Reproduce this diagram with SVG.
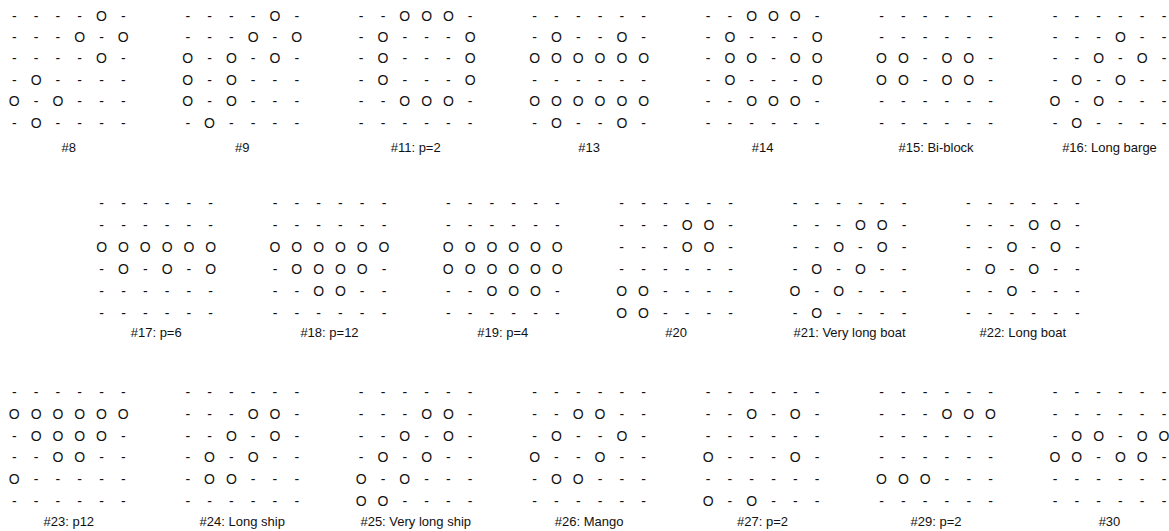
<svg xmlns="http://www.w3.org/2000/svg" width="1169" height="531" viewBox="0 0 1169 531">
<style>
.c{font-family:"Liberation Sans",Arial,Helvetica,sans-serif;font-size:14px;fill:#111;text-anchor:middle}
.l{font-family:"Liberation Sans",Arial,Helvetica,sans-serif;font-size:13px;fill:#111;text-anchor:middle}
</style>
<rect width="1169" height="531" fill="#fff"/>
<g id="connectors"/>
<!-- Row 1 -->
<g id="p8" transform="translate(14.3,20.7)">
<text class="c" x="0 21.8 43.6 65.4 87.2 109" y="0">----O-</text>
<text class="c" x="0 21.8 43.6 65.4 87.2 109" y="21.4">---O-O</text>
<text class="c" x="0 21.8 43.6 65.4 87.2 109" y="42.8">----O-</text>
<text class="c" x="0 21.8 43.6 65.4 87.2 109" y="64.2">-O----</text>
<text class="c" x="0 21.8 43.6 65.4 87.2 109" y="85.6">O-O---</text>
<text class="c" x="0 21.8 43.6 65.4 87.2 109" y="107">-O----</text>
<text class="l" x="54.5" y="131.6">#8</text>
</g>
<g id="p9" transform="translate(187.75,20.7)">
<text class="c" x="0 21.8 43.6 65.4 87.2 109" y="0">----O-</text>
<text class="c" x="0 21.8 43.6 65.4 87.2 109" y="21.4">---O-O</text>
<text class="c" x="0 21.8 43.6 65.4 87.2 109" y="42.8">O-O-O-</text>
<text class="c" x="0 21.8 43.6 65.4 87.2 109" y="64.2">O-O---</text>
<text class="c" x="0 21.8 43.6 65.4 87.2 109" y="85.6">O-O---</text>
<text class="c" x="0 21.8 43.6 65.4 87.2 109" y="107">-O----</text>
<text class="l" x="54.5" y="131.6">#9</text>
</g>
<g id="p11" transform="translate(361.2,20.7)">
<text class="c" x="0 21.8 43.6 65.4 87.2 109" y="0">--OOO-</text>
<text class="c" x="0 21.8 43.6 65.4 87.2 109" y="21.4">-O---O</text>
<text class="c" x="0 21.8 43.6 65.4 87.2 109" y="42.8">-O---O</text>
<text class="c" x="0 21.8 43.6 65.4 87.2 109" y="64.2">-O---O</text>
<text class="c" x="0 21.8 43.6 65.4 87.2 109" y="85.6">--OOO-</text>
<text class="c" x="0 21.8 43.6 65.4 87.2 109" y="107">------</text>
<text class="l" x="54.5" y="131.6">#11: p=2</text>
</g>
<g id="p13" transform="translate(534.65,20.7)">
<text class="c" x="0 21.8 43.6 65.4 87.2 109" y="0">------</text>
<text class="c" x="0 21.8 43.6 65.4 87.2 109" y="21.4">-O--O-</text>
<text class="c" x="0 21.8 43.6 65.4 87.2 109" y="42.8">OOOOOO</text>
<text class="c" x="0 21.8 43.6 65.4 87.2 109" y="64.2">------</text>
<text class="c" x="0 21.8 43.6 65.4 87.2 109" y="85.6">OOOOOO</text>
<text class="c" x="0 21.8 43.6 65.4 87.2 109" y="107">-O--O-</text>
<text class="l" x="54.5" y="131.6">#13</text>
</g>
<g id="p14" transform="translate(708.1,20.7)">
<text class="c" x="0 21.8 43.6 65.4 87.2 109" y="0">--OOO-</text>
<text class="c" x="0 21.8 43.6 65.4 87.2 109" y="21.4">-O---O</text>
<text class="c" x="0 21.8 43.6 65.4 87.2 109" y="42.8">-OO-OO</text>
<text class="c" x="0 21.8 43.6 65.4 87.2 109" y="64.2">-O---O</text>
<text class="c" x="0 21.8 43.6 65.4 87.2 109" y="85.6">--OOO-</text>
<text class="c" x="0 21.8 43.6 65.4 87.2 109" y="107">------</text>
<text class="l" x="54.5" y="131.6">#14</text>
</g>
<g id="p15" transform="translate(881.55,20.7)">
<text class="c" x="0 21.8 43.6 65.4 87.2 109" y="0">------</text>
<text class="c" x="0 21.8 43.6 65.4 87.2 109" y="21.4">------</text>
<text class="c" x="0 21.8 43.6 65.4 87.2 109" y="42.8">OO-OO-</text>
<text class="c" x="0 21.8 43.6 65.4 87.2 109" y="64.2">OO-OO-</text>
<text class="c" x="0 21.8 43.6 65.4 87.2 109" y="85.6">------</text>
<text class="c" x="0 21.8 43.6 65.4 87.2 109" y="107">------</text>
<text class="l" x="54.5" y="131.6">#15: Bi-block</text>
</g>
<g id="p16" transform="translate(1055,20.7)">
<text class="c" x="0 21.8 43.6 65.4 87.2 109" y="0">------</text>
<text class="c" x="0 21.8 43.6 65.4 87.2 109" y="21.4">---O--</text>
<text class="c" x="0 21.8 43.6 65.4 87.2 109" y="42.8">--O-O-</text>
<text class="c" x="0 21.8 43.6 65.4 87.2 109" y="64.2">-O-O--</text>
<text class="c" x="0 21.8 43.6 65.4 87.2 109" y="85.6">O-O---</text>
<text class="c" x="0 21.8 43.6 65.4 87.2 109" y="107">-O----</text>
<text class="l" x="54.5" y="131.6">#16: Long barge</text>
</g>
<!-- Row 2 -->
<g id="p17" transform="translate(101.7,208.3)">
<text class="c" x="0 21.8 43.6 65.4 87.2 109" y="0">------</text>
<text class="c" x="0 21.8 43.6 65.4 87.2 109" y="22">------</text>
<text class="c" x="0 21.8 43.6 65.4 87.2 109" y="44">OOOOOO</text>
<text class="c" x="0 21.8 43.6 65.4 87.2 109" y="66">-O-O-O</text>
<text class="c" x="0 21.8 43.6 65.4 87.2 109" y="88">------</text>
<text class="c" x="0 21.8 43.6 65.4 87.2 109" y="110">------</text>
<text class="l" x="54.5" y="129.2">#17: p=6</text>
</g>
<g id="p18" transform="translate(275,208.3)">
<text class="c" x="0 21.8 43.6 65.4 87.2 109" y="0">------</text>
<text class="c" x="0 21.8 43.6 65.4 87.2 109" y="22">------</text>
<text class="c" x="0 21.8 43.6 65.4 87.2 109" y="44">OOOOOO</text>
<text class="c" x="0 21.8 43.6 65.4 87.2 109" y="66">-OOOO-</text>
<text class="c" x="0 21.8 43.6 65.4 87.2 109" y="88">--OO--</text>
<text class="c" x="0 21.8 43.6 65.4 87.2 109" y="110">------</text>
<text class="l" x="54.5" y="129.2">#18: p=12</text>
</g>
<g id="p19" transform="translate(448.3,208.3)">
<text class="c" x="0 21.8 43.6 65.4 87.2 109" y="0">------</text>
<text class="c" x="0 21.8 43.6 65.4 87.2 109" y="22">------</text>
<text class="c" x="0 21.8 43.6 65.4 87.2 109" y="44">OOOOOO</text>
<text class="c" x="0 21.8 43.6 65.4 87.2 109" y="66">OOOOOO</text>
<text class="c" x="0 21.8 43.6 65.4 87.2 109" y="88">--OOO-</text>
<text class="c" x="0 21.8 43.6 65.4 87.2 109" y="110">------</text>
<text class="l" x="54.5" y="129.2">#19: p=4</text>
</g>
<g id="p20" transform="translate(621.7,208.3)">
<text class="c" x="0 21.8 43.6 65.4 87.2 109" y="0">------</text>
<text class="c" x="0 21.8 43.6 65.4 87.2 109" y="22">---OO-</text>
<text class="c" x="0 21.8 43.6 65.4 87.2 109" y="44">---OO-</text>
<text class="c" x="0 21.8 43.6 65.4 87.2 109" y="66">------</text>
<text class="c" x="0 21.8 43.6 65.4 87.2 109" y="88">OO----</text>
<text class="c" x="0 21.8 43.6 65.4 87.2 109" y="110">OO----</text>
<text class="l" x="54.5" y="129.2">#20</text>
</g>
<g id="p21" transform="translate(795,208.3)">
<text class="c" x="0 21.8 43.6 65.4 87.2 109" y="0">------</text>
<text class="c" x="0 21.8 43.6 65.4 87.2 109" y="22">---OO-</text>
<text class="c" x="0 21.8 43.6 65.4 87.2 109" y="44">--O-O-</text>
<text class="c" x="0 21.8 43.6 65.4 87.2 109" y="66">-O-O--</text>
<text class="c" x="0 21.8 43.6 65.4 87.2 109" y="88">O-O---</text>
<text class="c" x="0 21.8 43.6 65.4 87.2 109" y="110">-O----</text>
<text class="l" x="54.5" y="129.2">#21: Very long boat</text>
</g>
<g id="p22" transform="translate(968.3,208.3)">
<text class="c" x="0 21.8 43.6 65.4 87.2 109" y="0">------</text>
<text class="c" x="0 21.8 43.6 65.4 87.2 109" y="22">---OO-</text>
<text class="c" x="0 21.8 43.6 65.4 87.2 109" y="44">--O-O-</text>
<text class="c" x="0 21.8 43.6 65.4 87.2 109" y="66">-O-O--</text>
<text class="c" x="0 21.8 43.6 65.4 87.2 109" y="88">--O---</text>
<text class="c" x="0 21.8 43.6 65.4 87.2 109" y="110">------</text>
<text class="l" x="54.5" y="129.2">#22: Long boat</text>
</g>
<!-- Row 3 -->
<g id="p23" transform="translate(14.3,397.3)">
<text class="c" x="0 21.8 43.6 65.4 87.2 109" y="0">------</text>
<text class="c" x="0 21.8 43.6 65.4 87.2 109" y="21.7">OOOOOO</text>
<text class="c" x="0 21.8 43.6 65.4 87.2 109" y="43.4">-OOOO-</text>
<text class="c" x="0 21.8 43.6 65.4 87.2 109" y="65.1">--OO--</text>
<text class="c" x="0 21.8 43.6 65.4 87.2 109" y="86.8">O-----</text>
<text class="c" x="0 21.8 43.6 65.4 87.2 109" y="108.5">------</text>
<text class="l" x="54.5" y="129.2">#23: p12</text>
</g>
<g id="p24" transform="translate(187.75,397.3)">
<text class="c" x="0 21.8 43.6 65.4 87.2 109" y="0">------</text>
<text class="c" x="0 21.8 43.6 65.4 87.2 109" y="21.7">---OO-</text>
<text class="c" x="0 21.8 43.6 65.4 87.2 109" y="43.4">--O-O-</text>
<text class="c" x="0 21.8 43.6 65.4 87.2 109" y="65.1">-O-O--</text>
<text class="c" x="0 21.8 43.6 65.4 87.2 109" y="86.8">-OO---</text>
<text class="c" x="0 21.8 43.6 65.4 87.2 109" y="108.5">------</text>
<text class="l" x="54.5" y="129.2">#24: Long ship</text>
</g>
<g id="p25" transform="translate(361.2,397.3)">
<text class="c" x="0 21.8 43.6 65.4 87.2 109" y="0">------</text>
<text class="c" x="0 21.8 43.6 65.4 87.2 109" y="21.7">---OO-</text>
<text class="c" x="0 21.8 43.6 65.4 87.2 109" y="43.4">--O-O-</text>
<text class="c" x="0 21.8 43.6 65.4 87.2 109" y="65.1">-O-O--</text>
<text class="c" x="0 21.8 43.6 65.4 87.2 109" y="86.8">O-O---</text>
<text class="c" x="0 21.8 43.6 65.4 87.2 109" y="108.5">OO----</text>
<text class="l" x="54.5" y="129.2">#25: Very long ship</text>
</g>
<g id="p26" transform="translate(534.65,397.3)">
<text class="c" x="0 21.8 43.6 65.4 87.2 109" y="0">------</text>
<text class="c" x="0 21.8 43.6 65.4 87.2 109" y="21.7">--OO--</text>
<text class="c" x="0 21.8 43.6 65.4 87.2 109" y="43.4">-O--O-</text>
<text class="c" x="0 21.8 43.6 65.4 87.2 109" y="65.1">O--O--</text>
<text class="c" x="0 21.8 43.6 65.4 87.2 109" y="86.8">-OO---</text>
<text class="c" x="0 21.8 43.6 65.4 87.2 109" y="108.5">------</text>
<text class="l" x="54.5" y="129.2">#26: Mango</text>
</g>
<g id="p27" transform="translate(708.1,397.3)">
<text class="c" x="0 21.8 43.6 65.4 87.2 109" y="0">------</text>
<text class="c" x="0 21.8 43.6 65.4 87.2 109" y="21.7">--O-O-</text>
<text class="c" x="0 21.8 43.6 65.4 87.2 109" y="43.4">------</text>
<text class="c" x="0 21.8 43.6 65.4 87.2 109" y="65.1">O---O-</text>
<text class="c" x="0 21.8 43.6 65.4 87.2 109" y="86.8">------</text>
<text class="c" x="0 21.8 43.6 65.4 87.2 109" y="108.5">O-O---</text>
<text class="l" x="54.5" y="129.2">#27: p=2</text>
</g>
<g id="p29" transform="translate(881.55,397.3)">
<text class="c" x="0 21.8 43.6 65.4 87.2 109" y="0">------</text>
<text class="c" x="0 21.8 43.6 65.4 87.2 109" y="21.7">---OOO</text>
<text class="c" x="0 21.8 43.6 65.4 87.2 109" y="43.4">------</text>
<text class="c" x="0 21.8 43.6 65.4 87.2 109" y="65.1">------</text>
<text class="c" x="0 21.8 43.6 65.4 87.2 109" y="86.8">OOO---</text>
<text class="c" x="0 21.8 43.6 65.4 87.2 109" y="108.5">------</text>
<text class="l" x="54.5" y="129.2">#29: p=2</text>
</g>
<g id="p30" transform="translate(1055,397.3)">
<text class="c" x="0 21.8 43.6 65.4 87.2 109" y="0">------</text>
<text class="c" x="0 21.8 43.6 65.4 87.2 109" y="21.7">------</text>
<text class="c" x="0 21.8 43.6 65.4 87.2 109" y="43.4">-OO-OO</text>
<text class="c" x="0 21.8 43.6 65.4 87.2 109" y="65.1">OO-OO-</text>
<text class="c" x="0 21.8 43.6 65.4 87.2 109" y="86.8">------</text>
<text class="c" x="0 21.8 43.6 65.4 87.2 109" y="108.5">------</text>
<text class="l" x="54.5" y="129.2">#30</text>
</g>
</svg>
